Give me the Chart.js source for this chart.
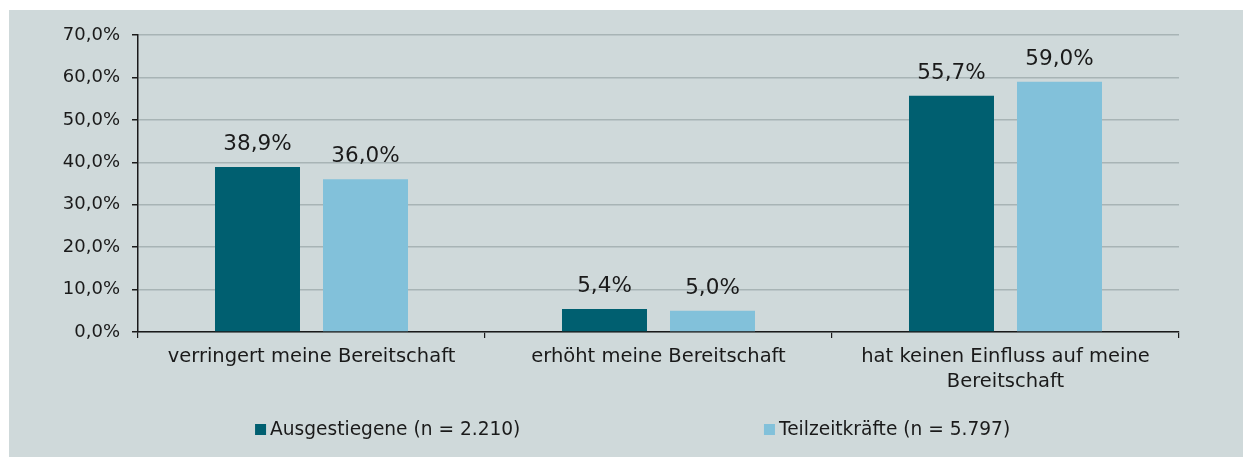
<!DOCTYPE html>
<html>
<head>
<meta charset="utf-8">
<script src="https://cdn.jsdelivr.net/npm/chart.js@4.4.1/dist/chart.umd.min.js"></script>
<style>
  html, body { margin: 0; padding: 0; background: #ffffff; }
  #panel { position: absolute; left: 9px; top: 10px; width: 1234px; height: 447px; background: #cfd9da; }
  canvas { display: block; }
</style>
</head>
<body>
<div id="panel"><canvas id="c" width="1234" height="447"></canvas></div>
<script>
const categories = [
  "verringert meine Bereitschaft",
  "erhöht meine Bereitschaft",
  ["hat keinen Einfluss auf meine", "Bereitschaft"]
];
const seriesNames = ["Ausgestiegene (n = 2.210)", "Teilzeitkräfte (n = 5.797)"];
const ausgestiegene = [38.9, 5.4, 55.7];
const teilzeit = [36.0, 5.0, 59.0];
const yTicks = [0, 10, 20, 30, 40, 50, 60, 70];
const colors = ["#005f70", "#82c1da"];

const FONT = "'DejaVu Sans', 'Open Sans', sans-serif";
const fmt = v => v.toFixed(1).replace('.', ',') + '%';

const valueLabels = {
  id: 'valueLabels',
  afterDatasetsDraw(chart) {
    const ctx = chart.ctx;
    ctx.save();
    ctx.font = "21.5px " + FONT;
    ctx.fillStyle = "#1a1a1a";
    ctx.textAlign = "center";
    ctx.textBaseline = "alphabetic";
    chart.data.datasets.forEach((ds, i) => {
      const meta = chart.getDatasetMeta(i);
      meta.data.forEach((bar, j) => {
        ctx.fillText(fmt(ds.data[j]), bar.x, bar.y - 17);
      });
    });
    ctx.restore();
  }
};

const customLegend = {
  id: 'customLegend',
  afterDraw(chart) {
    const ctx = chart.ctx;
    const W = chart.width;
    const xs = [W * 0.1994, W * 0.6118];
    const cy = chart.height - 27;
    ctx.save();
    ctx.font = "18.6px " + FONT;
    ctx.textBaseline = "middle";
    ctx.textAlign = "left";
    chart.data.datasets.forEach((ds, i) => {
      ctx.fillStyle = ds.backgroundColor;
      ctx.fillRect(xs[i], cy - 6, 11, 11);
      ctx.fillStyle = "#1a1a1a";
      ctx.fillText(ds.label, xs[i] + 15, cy);
    });
    ctx.restore();
  }
};

new Chart(document.getElementById('c'), {
  type: 'bar',
  data: {
    labels: categories,
    datasets: [
      { label: seriesNames[0], data: ausgestiegene, backgroundColor: colors[0] },
      { label: seriesNames[1], data: teilzeit, backgroundColor: colors[1] }
    ]
  },
  options: {
    responsive: false,
    animation: false,
    devicePixelRatio: 1,
    categoryPercentage: 0.6225,
    barPercentage: 0.787,
    layout: { padding: { left: 0, right: 64, top: 25, bottom: 65 } },
    plugins: {
      legend: { display: false },
      tooltip: { enabled: false }
    },
    scales: {
      x: {
        offset: true,
        grid: { display: true, drawOnChartArea: false, drawTicks: true, tickLength: 6, color: "#1a1a1a", lineWidth: 1.2 },
        border: { display: true, color: "#1a1a1a", width: 1.5 },
        ticks: { color: "#1a1a1a", font: { family: FONT, size: 19.5, lineHeight: 1.28 }, padding: 6, maxRotation: 0, autoSkip: false },
        afterFit(scale) { scale.height = 60; }
      },
      y: {
        min: 0, max: 70,
        afterBuildTicks(scale) { scale.ticks = yTicks.map(v => ({ value: v })); },
        grid: { color: "#a8b4b5", lineWidth: 1.5, tickColor: "#1a1a1a", tickLength: 6, drawTicks: true },
        border: { display: true, color: "#1a1a1a", width: 1.5 },
        ticks: { color: "#1a1a1a", font: { family: FONT, size: 18 }, padding: 12, callback: v => fmt(v) },
        afterFit(scale) { scale.width = 129; }
      }
    }
  },
  plugins: [valueLabels, customLegend]
});
</script>
</body>
</html>
